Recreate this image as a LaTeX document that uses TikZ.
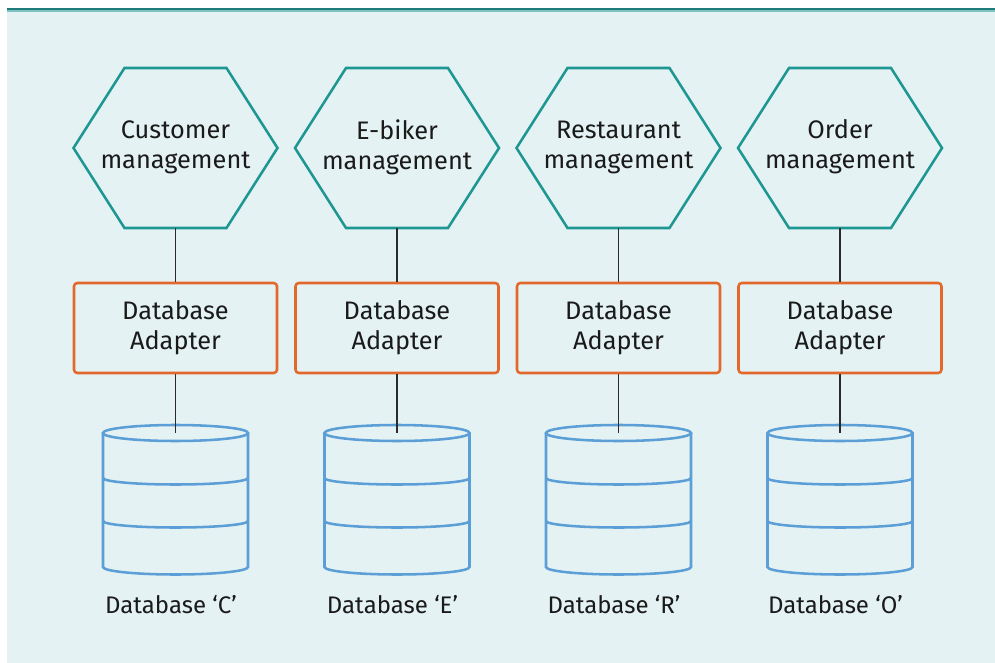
\documentclass[tikz,border=0pt]{standalone}
\usepackage{fontspec}
\setmainfont{Fira Sans}
\usetikzlibrary{calc}

\definecolor{panelbg}{HTML}{E4F2F4}
\definecolor{rule}{HTML}{1F7A7A}
\definecolor{rulelight}{HTML}{7CC4C4}
\definecolor{hexc}{HTML}{1E9692}
\definecolor{adapterc}{HTML}{E2692B}
\definecolor{dbc}{HTML}{5B9FD6}
\definecolor{linkc}{HTML}{2B2B2B}
\definecolor{txt}{HTML}{1A1A1A}

\tikzset{
  hexline/.style={draw=hexc, line width=1.9pt, line join=miter},
  adapter/.style={draw=adapterc, line width=1.9pt, rounded corners=2.5pt,
    minimum width=203*0.75pt, minimum height=90*0.75pt, inner sep=0pt,
    align=center, font=\fontsize{19}{22.5}\selectfont, text=txt},
  hextext/.style={align=center, font=\fontsize{19}{22.5}\selectfont, text=txt, inner sep=0pt},
  dblabel/.style={font=\fontsize{18}{22.5}\selectfont, text=txt, inner sep=0pt},
  dbline/.style={draw=dbc, line width=1.9pt},
  link/.style={draw=linkc, line width=0.8pt},
}

\begin{document}
\begin{tikzpicture}[x=0.75pt, y=-0.75pt]
  \useasboundingbox (0,0) rectangle (995,663);
  % panel and top rule
  \fill[panelbg] (7,10) rectangle (995,663);
  \fill[rulelight] (7,10) rectangle (995,12);
  \draw[rule, line width=1.5pt] (7,9.5) -- (995,9.5);

  \foreach \cx/\id/\top/\bot/\db in {
      175.5/c/Customer/management/C,
      397/e/E-biker/management/E,
      618.5/r/Restaurant/management/R,
      840/o/Order/management/O} {
    % service hexagon
    \node[hextext] (hex-\id) at (\cx,147) {\top\\\bot};
    \draw[hexline, shift={(\cx,148)}]
      (-102,0) -- (-51,-80) -- (51,-80) -- (102,0) -- (51,80) -- (-51,80) -- cycle;
    \coordinate (hexb-\id) at (\cx,228);
    % adapter box
    \node[adapter] (ad-\id) at (\cx,328) {Database\\Adapter};
    % database cylinder
    \coordinate (dbtop-\id) at (\cx,433);
    \begin{scope}[shift={(\cx,0)}]
      \draw[dbline] (0,433) ellipse [x radius=72.5, y radius=8];
      \draw[dbline] (-72.5,433) -- (-72.5,567) arc[start angle=180, end angle=360, x radius=72.5, y radius=-7.5] -- (72.5,433);
      \draw[dbline] (-72.5,478) arc[start angle=180, end angle=360, x radius=72.5, y radius=-6.5];
      \draw[dbline] (-72.5,521) arc[start angle=180, end angle=360, x radius=72.5, y radius=-6.5];
    \end{scope}
    \node[dblabel] (lab-\id) at (\cx-4.5,605) {Database ‘\db’};
    % connectors
    \draw[link] (hexb-\id) -- (ad-\id.north);
    \draw[link] (ad-\id.south) -- (dbtop-\id);
  }
\end{tikzpicture}
\end{document}
